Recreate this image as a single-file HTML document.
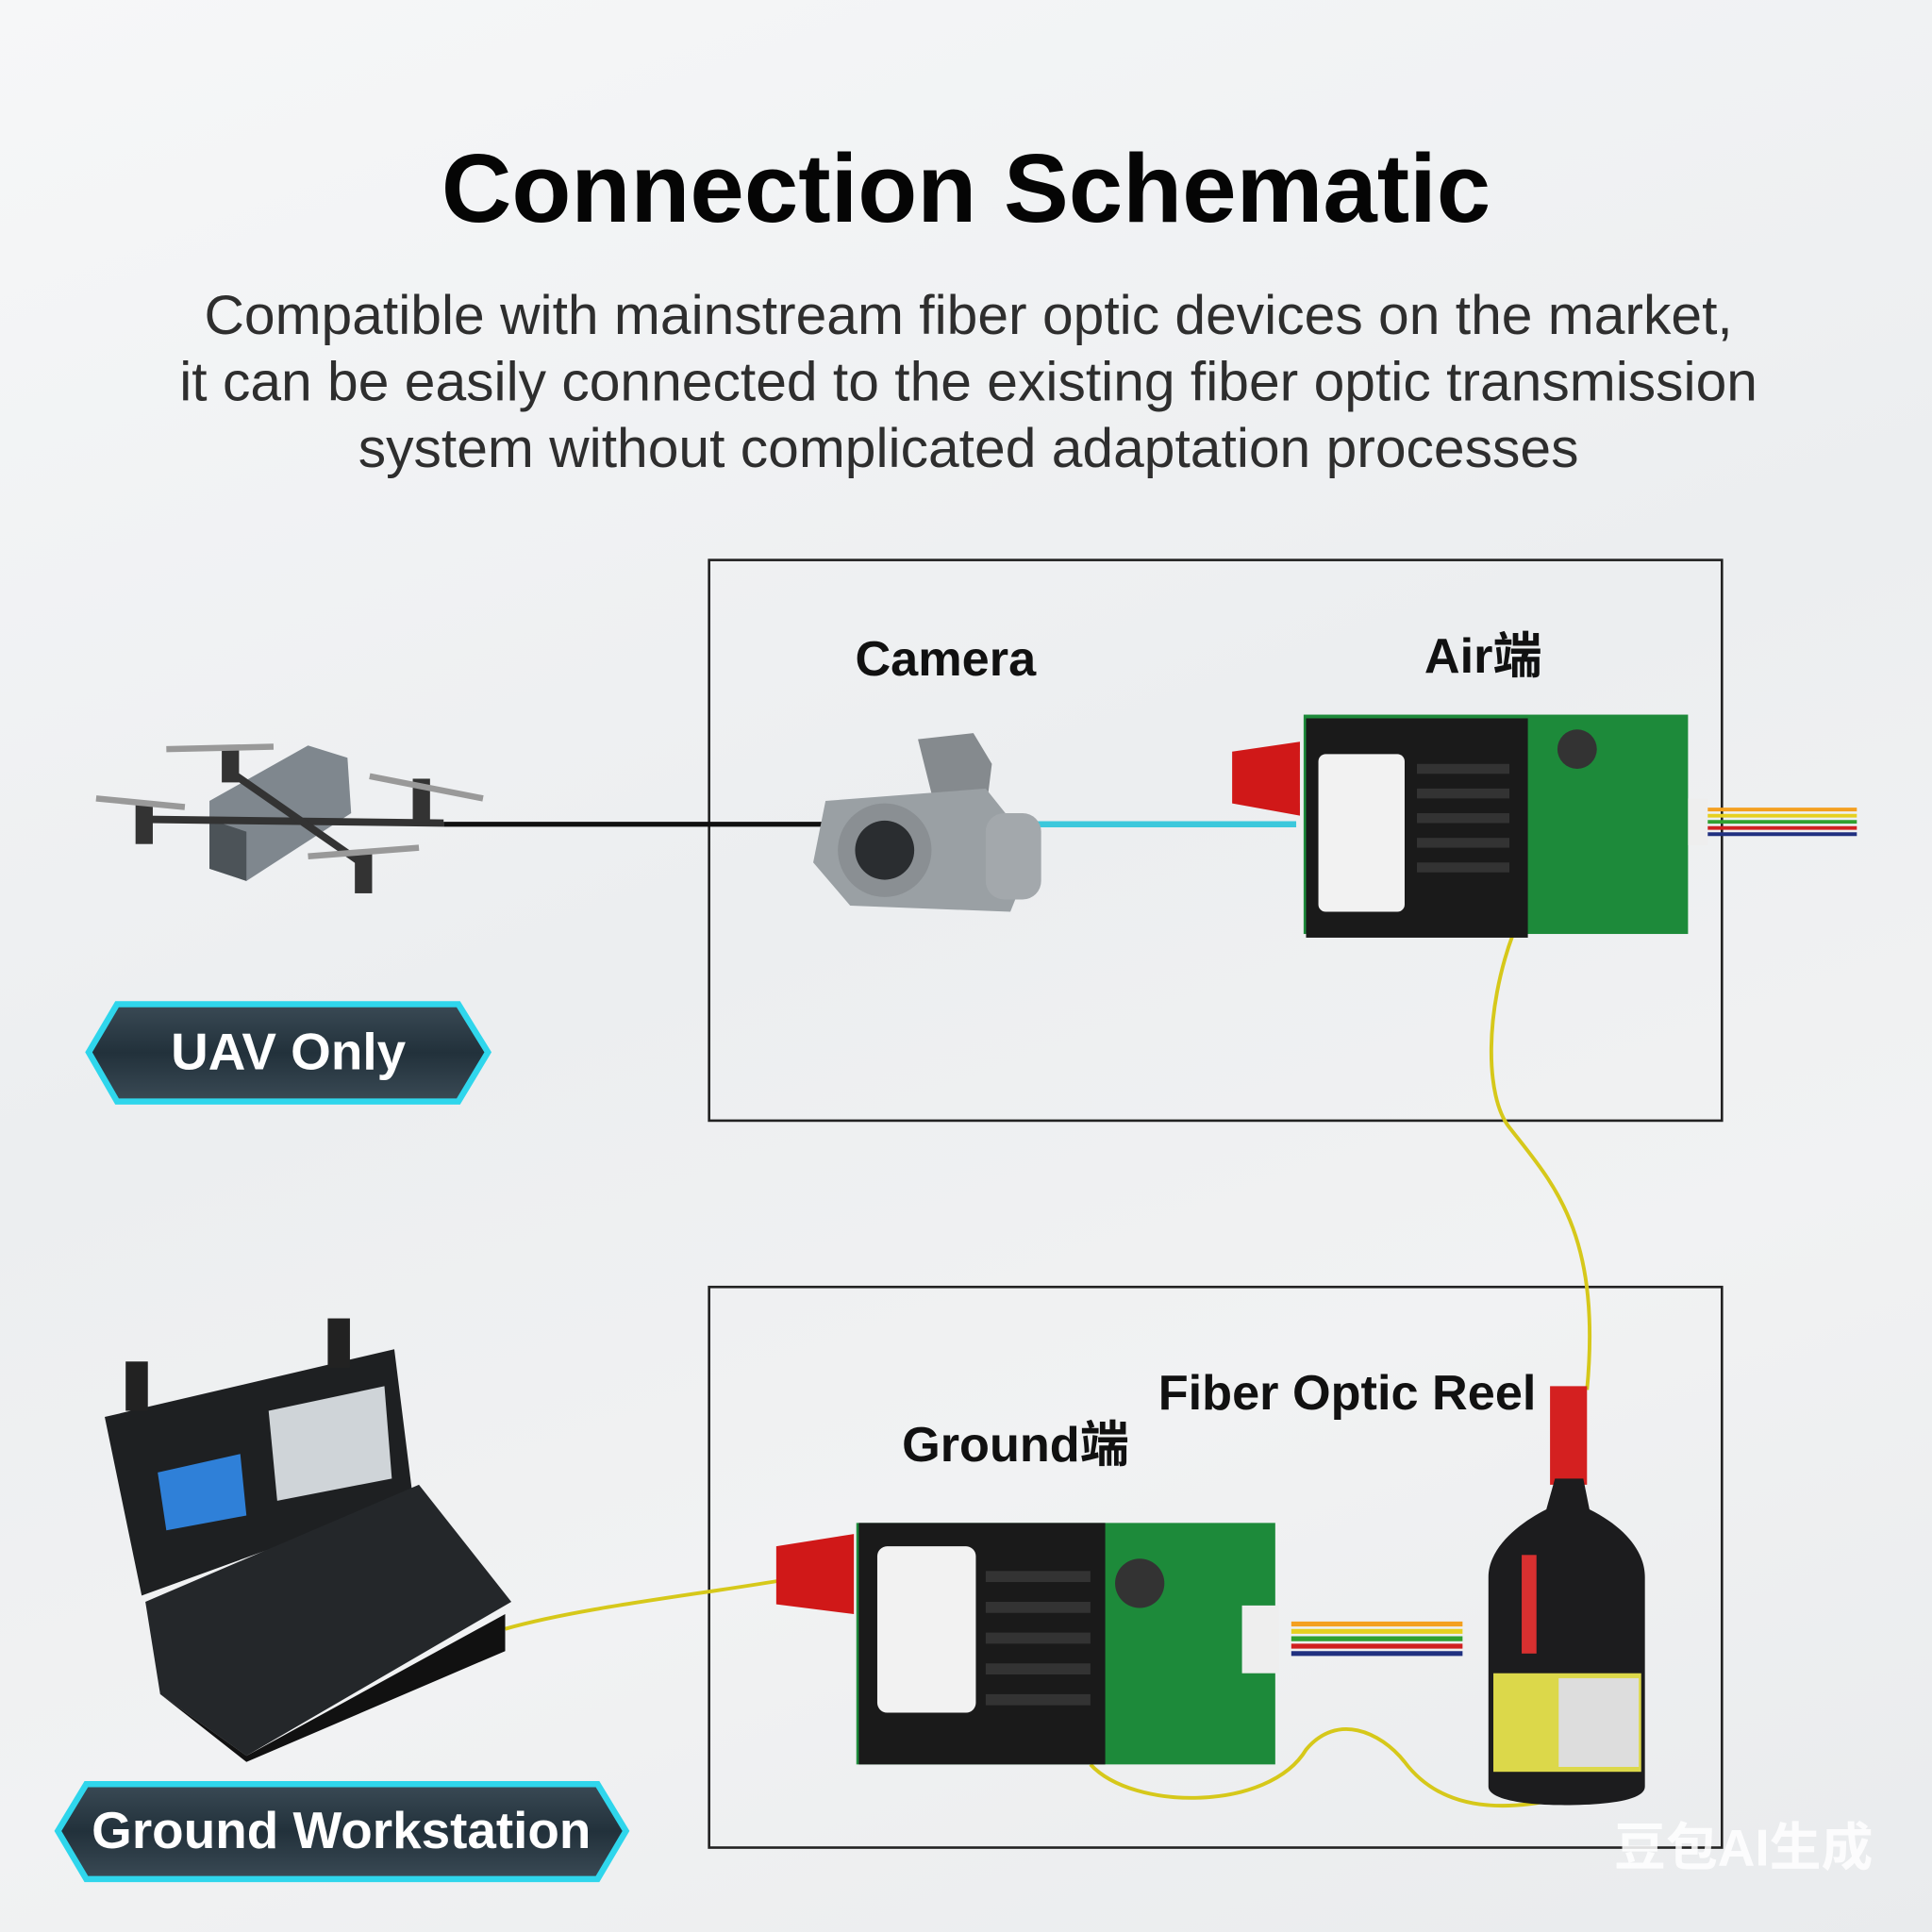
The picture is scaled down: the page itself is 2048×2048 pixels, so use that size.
<!DOCTYPE html>
<html><head><meta charset="utf-8"><style>
html,body{margin:0;padding:0;width:2048px;height:2048px;overflow:hidden;background:#eef0f2}
#w{position:absolute;left:0;top:0;width:1568px;height:1568px;transform:scale(1.30612);transform-origin:0 0;background:linear-gradient(160deg,#f6f7f8 0%,#eceef0 45%,#f1f2f3 70%,#e9ebed 100%);font-family:"Liberation Sans","Noto Sans CJK SC",sans-serif}
.t{position:absolute;white-space:nowrap;line-height:1.15}
</style></head><body><div id="w">
<div class="t" style="left:0;width:1568px;top:108px;text-align:center;font-size:79px;font-weight:bold;color:#050505">Connection Schematic</div>
<div class="t" style="left:0;width:1572px;top:229px;text-align:center;font-size:45px;line-height:54px;color:#2e2e2e">Compatible with mainstream fiber optic devices on the market,<br>it can be easily connected to the existing fiber optic transmission<br>system without complicated adaptation processes</div>

<svg width="1568" height="1568" style="position:absolute;left:0;top:0">
<defs>
<linearGradient id="bd" x1="0" y1="0" x2="0" y2="1"><stop offset="0" stop-color="#3a4a55"/><stop offset="0.5" stop-color="#22313b"/><stop offset="1" stop-color="#3a4a55"/></linearGradient>
</defs>
<rect x="575.5" y="454.5" width="822" height="455" fill="none" stroke="#222" stroke-width="2"/>
<rect x="575.5" y="1044.5" width="822" height="455" fill="none" stroke="#222" stroke-width="2"/>
<line x1="360" y1="669" x2="668" y2="669" stroke="#111" stroke-width="4"/>
<line x1="822" y1="669" x2="1052" y2="669" stroke="#3cc8dc" stroke-width="5"/>
<path d="M1228 758 C1205 820,1205 890,1225 915 C1260 960,1300 1000,1288 1128" fill="none" stroke="#d6c81a" stroke-width="3"/>
<path d="M410 1322 C470 1305,560 1295,632 1283" fill="none" stroke="#d6c81a" stroke-width="3"/>
<path d="M885 1432 C920 1470,1030 1470,1060 1420 C1085 1390,1120 1405,1140 1430 C1170 1470,1220 1470,1265 1460" fill="none" stroke="#d6c81a" stroke-width="3"/>
<g>
<path d="M170 650 L250 605 L282 615 L285 660 L200 715 L170 705 Z" fill="#7f878e"/>
<path d="M170 665 L200 675 L200 715 L170 705 Z" fill="#4c5358"/>
<line x1="120" y1="665" x2="360" y2="668" stroke="#333" stroke-width="6"/>
<line x1="185" y1="625" x2="300" y2="705" stroke="#333" stroke-width="6"/>
<rect x="110" y="650" width="14" height="35" fill="#333"/><rect x="180" y="605" width="14" height="30" fill="#333"/>
<rect x="335" y="632" width="14" height="35" fill="#333"/><rect x="288" y="690" width="14" height="35" fill="#333"/>
<g stroke="#999" stroke-width="5"><line x1="78" y1="648" x2="150" y2="655"/><line x1="135" y1="608" x2="222" y2="606"/><line x1="300" y1="630" x2="392" y2="648"/><line x1="250" y1="695" x2="340" y2="688"/></g>
</g>
<g>
<path d="M745 600 L790 595 L805 620 L800 660 L760 660 Z" fill="#858a8e"/>
<path d="M670 650 L800 640 L840 690 L820 740 L690 735 L660 700 Z" fill="#9aa0a4"/>
<circle cx="718" cy="690" r="38" fill="#8a8f93"/><circle cx="718" cy="690" r="24" fill="#2a2d30"/>
<rect x="800" y="660" width="45" height="70" rx="15" fill="#a3a8ac"/>
</g>
<g>
<rect x="1058" y="580" width="312" height="178" fill="#1d8a3a"/>
<rect x="1060" y="583" width="180" height="178" fill="#1a1a1a"/>
<rect x="1070" y="612" width="70" height="128" rx="6" fill="#f2f2f2"/>
<g fill="#333"><rect x="1150" y="620" width="75" height="8"/><rect x="1150" y="640" width="75" height="8"/><rect x="1150" y="660" width="75" height="8"/><rect x="1150" y="680" width="75" height="8"/><rect x="1150" y="700" width="75" height="8"/></g>
<path d="M1000 610 L1055 602 L1055 662 L1000 652 Z" fill="#d01818"/>
<rect x="1370" y="648" width="16" height="38" fill="#eee"/>
<g stroke-width="3"><line x1="1386" y1="657" x2="1507" y2="657" stroke="#f4a020"/><line x1="1386" y1="662" x2="1507" y2="662" stroke="#e6d020"/><line x1="1386" y1="667" x2="1507" y2="667" stroke="#30a030"/><line x1="1386" y1="672" x2="1507" y2="672" stroke="#d02020"/><line x1="1386" y1="677" x2="1507" y2="677" stroke="#203080"/></g>
<circle cx="1280" cy="608" r="16" fill="#333"/>
</g>
<g>
<rect x="695" y="1236" width="340" height="196" fill="#1d8a3a"/>
<rect x="697" y="1236" width="200" height="196" fill="#1a1a1a"/>
<rect x="712" y="1255" width="80" height="135" rx="8" fill="#f2f2f2"/>
<g fill="#333"><rect x="800" y="1275" width="85" height="9"/><rect x="800" y="1300" width="85" height="9"/><rect x="800" y="1325" width="85" height="9"/><rect x="800" y="1350" width="85" height="9"/><rect x="800" y="1375" width="85" height="9"/></g>
<path d="M630 1255 L693 1245 L693 1310 L630 1302 Z" fill="#d01818"/>
<circle cx="925" cy="1285" r="20" fill="#333"/>
<rect x="1008" y="1303" width="30" height="55" fill="#eee"/>
<g stroke-width="4"><line x1="1048" y1="1318" x2="1187" y2="1318" stroke="#f4a020"/><line x1="1048" y1="1324" x2="1187" y2="1324" stroke="#e6d020"/><line x1="1048" y1="1330" x2="1187" y2="1330" stroke="#30a030"/><line x1="1048" y1="1336" x2="1187" y2="1336" stroke="#d02020"/><line x1="1048" y1="1342" x2="1187" y2="1342" stroke="#203080"/></g>
</g>
<g>
<rect x="1258" y="1125" width="30" height="80" fill="#d42020"/>
<path d="M1262 1200 L1285 1200 L1290 1225 C1320 1240,1335 1260,1335 1280 L1335 1450 C1335 1462,1300 1465,1270 1465 C1235 1465,1208 1460,1208 1450 L1208 1280 C1208 1255,1235 1235,1255 1225 Z" fill="#1c1c1e"/>
<rect x="1235" y="1262" width="12" height="80" fill="#d83030"/>
<rect x="1212" y="1358" width="120" height="80" fill="#dcd84a"/>
<rect x="1265" y="1362" width="65" height="72" fill="#ddd"/>
</g>
<g>
<path d="M85 1150 L320 1095 L335 1215 L115 1295 Z" fill="#1e2022"/>
<path d="M128 1195 L195 1180 L200 1230 L135 1242 Z" fill="#2f80d8"/>
<path d="M218 1145 L312 1125 L318 1200 L225 1218 Z" fill="#cfd4d8"/>
<path d="M118 1300 L340 1205 L415 1300 L200 1425 L130 1375 Z" fill="#24272a"/>
<path d="M130 1375 L200 1425 L410 1310 L410 1340 L200 1430 Z" fill="#111"/>
<rect x="102" y="1105" width="18" height="40" fill="#222"/><rect x="266" y="1070" width="18" height="40" fill="#222"/>
</g>
<path d="M95 815 L372 815 L396 854 L372 894 L95 894 L72 854 Z" fill="url(#bd)" stroke="#2fd6ec" stroke-width="5"/>
<path d="M70 1448 L485 1448 L508 1486 L485 1525 L70 1525 L47 1486 Z" fill="url(#bd)" stroke="#2fd6ec" stroke-width="5"/>
</svg>

<div class="t" style="left:72px;width:324px;top:830px;text-align:center;font-size:42px;font-weight:bold;color:#fff">UAV Only</div>
<div class="t" style="left:46px;width:462px;top:1462px;text-align:center;font-size:42px;font-weight:bold;color:#fff">Ground Workstation</div>
<div class="t" style="left:694px;top:512px;font-size:40px;font-weight:bold;color:#111">Camera</div>
<div class="t" style="left:1156px;top:510px;font-size:40px;font-weight:bold;color:#111">Air端</div>
<div class="t" style="left:940px;top:1108px;font-size:40px;font-weight:bold;color:#111">Fiber Optic Reel</div>
<div class="t" style="left:732px;top:1150px;font-size:40px;font-weight:bold;color:#111">Ground端</div>
<div class="t" style="left:1310px;top:1476px;font-size:42px;font-weight:bold;color:rgba(255,255,255,0.85)">豆包AI生成</div>
</div></body></html>
